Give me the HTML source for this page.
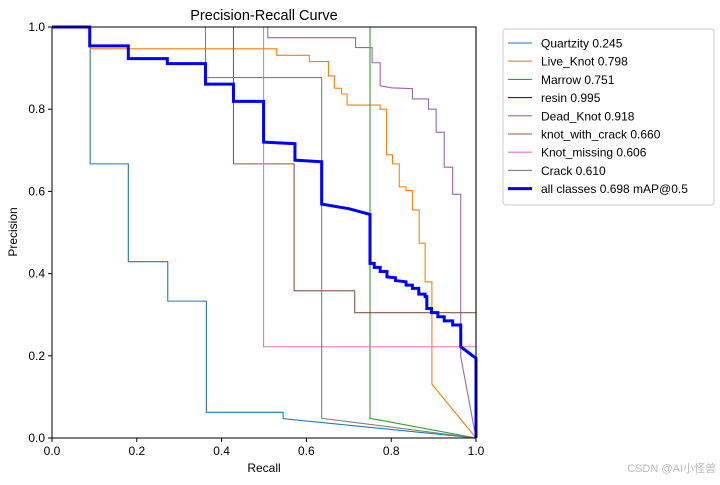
<!DOCTYPE html>
<html><head><meta charset="utf-8"><style>
body{margin:0;background:#fff;width:720px;height:480px;overflow:hidden;font-family:"Liberation Sans","Noto Sans CJK SC",sans-serif}
</style></head><body>
<svg id="c" width="720" height="480" xmlns="http://www.w3.org/2000/svg" font-family="Liberation Sans, DejaVu Sans, sans-serif"></svg>
<script>
const seriesNames=["Quartzity 0.245","Live_Knot 0.798","Marrow 0.751","resin 0.995","Dead_Knot 0.918","knot_with_crack 0.660","Knot_missing 0.606","Crack 0.610","all classes 0.698 mAP@0.5"];
const seriesColors=["#1f77b4","#ff7f0e","#2ca02c","#8b0000","#9467bd","#8c564b","#e377c2","#7f7f7f","#0000ff"];
const quartzity=[[0,1],[0.09,1],[0.09,0.667],[0.18,0.667],[0.18,0.429],[0.273,0.429],[0.273,0.333],[0.364,0.333],[0.364,0.0625],[0.545,0.0625],[0.545,0.047],[1,0]];
const liveKnot=[[0,1],[0.09,1],[0.09,0.947],[0.53,0.947],[0.53,0.931],[0.607,0.931],[0.607,0.916],[0.652,0.916],[0.652,0.881],[0.666,0.881],[0.666,0.851],[0.683,0.851],[0.683,0.837],[0.696,0.837],[0.696,0.81],[0.774,0.81],[0.774,0.8],[0.789,0.8],[0.789,0.689],[0.803,0.689],[0.803,0.667],[0.819,0.667],[0.819,0.611],[0.835,0.611],[0.835,0.602],[0.85,0.602],[0.85,0.555],[0.866,0.555],[0.866,0.474],[0.88,0.474],[0.88,0.38],[0.896,0.38],[0.896,0.131],[1,0]];
const marrow=[[0,1],[0.75,1],[0.75,0.048],[1,0]];
const resin=[[0,1],[1,1],[1,0]];
const deadKnot=[[0,1],[0.509,1],[0.509,0.974],[0.716,0.974],[0.716,0.95],[0.755,0.95],[0.755,0.913],[0.774,0.913],[0.774,0.857],[0.80,0.852],[0.85,0.85],[0.85,0.825],[0.888,0.825],[0.888,0.8],[0.906,0.8],[0.906,0.744],[0.925,0.744],[0.925,0.659],[0.945,0.659],[0.945,0.593],[0.964,0.593],[0.964,0.198],[1,0]];
const knotWithCrack=[[0,1],[0.428,1],[0.428,0.667],[0.571,0.667],[0.571,0.358],[0.714,0.358],[0.714,0.305],[1,0.305]];
const knotMissing=[[0,1],[0.499,1],[0.499,0.222],[1,0.222]];
const crack=[[0,1],[0.362,1],[0.362,0.877],[0.636,0.877],[0.636,0.048],[1,0]];
const allClasses=[[0,1],[0.089,1],[0.089,0.954],[0.18,0.954],[0.18,0.923],[0.272,0.923],[0.272,0.911],[0.362,0.911],[0.362,0.861],[0.428,0.861],[0.428,0.819],[0.499,0.819],[0.499,0.72],[0.573,0.716],[0.573,0.676],[0.636,0.672],[0.636,0.569],[0.7,0.558],[0.75,0.544],[0.75,0.425],[0.76,0.425],[0.76,0.415],[0.774,0.415],[0.774,0.405],[0.79,0.405],[0.79,0.392],[0.81,0.39],[0.81,0.383],[0.835,0.38],[0.835,0.372],[0.85,0.372],[0.85,0.364],[0.865,0.364],[0.865,0.35],[0.88,0.35],[0.88,0.344],[0.884,0.344],[0.884,0.315],[0.895,0.315],[0.895,0.305],[0.91,0.305],[0.91,0.295],[0.925,0.295],[0.925,0.285],[0.945,0.285],[0.945,0.275],[0.964,0.275],[0.964,0.222],[1,0.194],[1,0]];
const allSeries=[quartzity,liveKnot,marrow,resin,deadKnot,knotWithCrack,knotMissing,crack,allClasses];
const xTicks=[0,0.2,0.4,0.6,0.8,1.0];
const yTicks=[0,0.2,0.4,0.6,0.8,1.0];
const X0=52,X1=476,Y0=438,Y1=27;
const sx=v=>X0+v*(X1-X0), sy=v=>Y0-v*(Y0-Y1);
const svg=document.getElementById('c');const NS="http://www.w3.org/2000/svg";
function mk(t,a,p){const e=document.createElementNS(NS,t);for(const k in a)e.setAttribute(k,a[k]);(p||svg).appendChild(e);return e;}
allSeries.forEach((s,i)=>{
 const pl=mk('polyline',{points:s.map(d=>sx(d[0])+','+sy(d[1])).join(' '),fill:'none',stroke:seriesColors[i],'stroke-width':i==8?3:1.1});
 
 
});
const fr=mk('rect',{x:X0,y:Y1,width:X1-X0,height:Y0-Y1,fill:'none',stroke:'#000','stroke-width':1});


xTicks.forEach(v=>{mk('line',{x1:sx(v),x2:sx(v),y1:Y0,y2:Y0+4,stroke:'#000'});
 const t=mk('text',{x:sx(v),y:Y0+17,'text-anchor':'middle','font-size':12});t.textContent=v.toFixed(1);
 
 });
yTicks.forEach(v=>{mk('line',{x1:X0-4,x2:X0,y1:sy(v),y2:sy(v),stroke:'#000'});
 const t=mk('text',{x:X0-7,y:sy(v)+4,'text-anchor':'end','font-size':12});t.textContent=v.toFixed(1);
 
 });
let t=mk('text',{x:264,y:20,'text-anchor':'middle','font-size':14.5});t.textContent='Precision-Recall Curve';


t=mk('text',{x:264,y:472,'text-anchor':'middle','font-size':12});t.textContent='Recall';


t=mk('text',{x:17,y:232,'text-anchor':'middle','font-size':12,transform:'rotate(-90 17 232)'});t.textContent='Precision';


const lg=mk('rect',{x:503,y:29,width:211,height:176,rx:3,fill:'#fff',stroke:'#ccc'});


seriesNames.forEach((n,i)=>{const y=43+i*18.2;
 const l=mk('line',{x1:508,x2:532,y1:y,y2:y,stroke:seriesColors[i],'stroke-width':i==8?3:1.1});
 
 
 const tx=mk('text',{x:541,y:y+4.5,'font-size':12});tx.textContent=n;
 
 });
t=mk('text',{x:716,y:472,'text-anchor':'end','font-size':11,fill:'#bbb','font-family':'Liberation Sans, Noto Sans CJK SC, sans-serif'});t.textContent='CSDN @AI小怪兽';


</script>
</body></html>
